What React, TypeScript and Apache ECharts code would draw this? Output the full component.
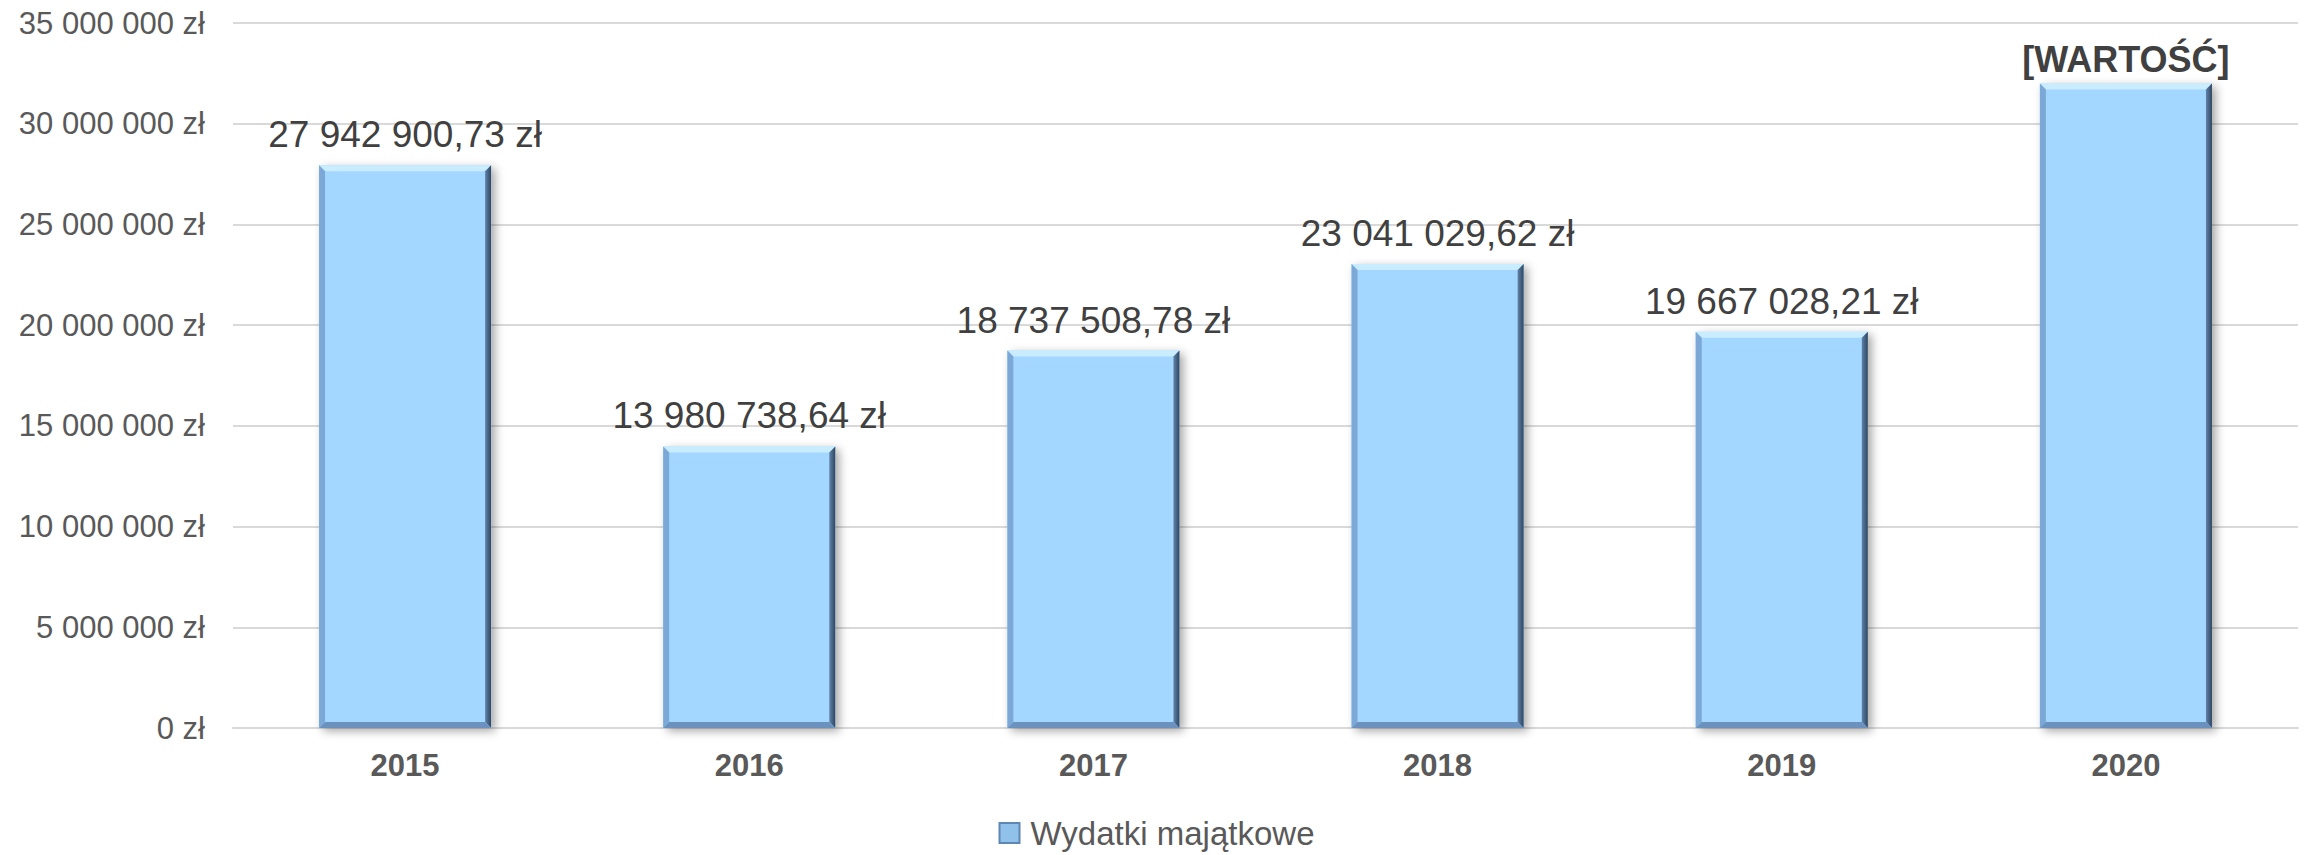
import React, { useEffect, useRef } from "react";
import * as echarts from "echarts";

const categories = ["2015", "2016", "2017", "2018", "2019", "2020"];
const values = [27942900.73, 13980738.64, 18737508.78, 23041029.62, 19667028.21, 32000000];
const labelOverrides: (string | null)[] = [null, null, null, null, null, "[WARTOŚĆ]"];
const seriesName = "Wydatki majątkowe";
const yMin = 0;
const yMax = 35000000;
const yInterval = 5000000;

const FONT = "'Liberation Sans', Arial, Helvetica, sans-serif";

function groupThousands(s: string): string {
  return s.replace(/\B(?=(\d{3})+(?!\d))/g, " ");
}
function fmtMoney(v: number, decimals: number): string {
  const fixed = v.toFixed(decimals);
  const [intPart, dec] = fixed.split(".");
  return groupThousands(intPart) + (dec ? "," + dec : "") + " zł";
}

export default function App() {
  const ref = useRef<HTMLDivElement>(null);
  useEffect(() => {
    if (!ref.current) return;
    const chart = echarts.init(ref.current, null, { renderer: "svg" });
    const barData = values.map((v, i) => {
      const ov = labelOverrides[i];
      if (ov) {
        return {
          value: v,
          label: {
            formatter: ov,
            fontWeight: "bold",
            fontSize: 36,
            distance: 6,
          },
        };
      }
      return v;
    });
    const B = 6;
    chart.setOption({
      animation: false,
      backgroundColor: "#ffffff",
      grid: { left: 233, right: 15, top: 23, bottom: 127, containLabel: false },
      legend: {
        data: [seriesName],
        left: "center",
        top: 814,
        icon: "rect",
        itemWidth: 20,
        itemHeight: 20,
        padding: 0,
        itemStyle: {
          color: "#8fc1ea",
          borderColor: "#5f87b3",
          borderWidth: 2,
        },
        textStyle: {
          fontFamily: FONT,
          fontSize: 33,
          lineHeight: 38,
          color: "#595959",
          padding: [0, 0, 0, 6],
        },
      },
      xAxis: {
        type: "category",
        data: categories,
        axisLine: { show: true, lineStyle: { color: "#d9d9d9", width: 2 } },
        axisTick: { show: false },
        axisLabel: {
          fontFamily: FONT,
          fontSize: 31,
          fontWeight: "bold",
          color: "#595959",
          margin: 22,
        },
      },
      yAxis: {
        type: "value",
        min: yMin,
        max: yMax,
        interval: yInterval,
        axisLine: { show: false },
        axisTick: { show: false },
        splitLine: { lineStyle: { color: "#d9d9d9", width: 2 } },
        axisLabel: {
          fontFamily: FONT,
          fontSize: 31,
          color: "#595959",
          margin: 28,
          formatter: (v: number) => fmtMoney(v, 0),
        },
      },
      series: [
        {
          name: seriesName,
          type: "bar",
          barWidth: "50%",
          data: barData,
          itemStyle: {
            color: "#a3d7ff",
            shadowColor: "rgba(0,0,0,0.35)",
            shadowBlur: 10,
            shadowOffsetX: 4,
            shadowOffsetY: 3,
          },
          label: {
            show: true,
            position: "top",
            distance: 12,
            fontFamily: FONT,
            fontSize: 37,
            color: "#404040",
            formatter: (p: any) => fmtMoney(p.value, 2),
          },
          z: 2,
        },
        {
          type: "custom",
          name: "bevel",
          silent: true,
          z: 3,
          data: values.map((v, i) => [i, v]),
          renderItem: (params: any, api: any) => {
            const topPt = api.coord([api.value(0), api.value(1)]);
            const basePt = api.coord([api.value(0), 0]);
            const bw = api.size([1, 0])[0] * 0.5;
            const l = topPt[0] - bw / 2;
            const r = l + bw;
            const t = topPt[1];
            const b = basePt[1];
            return {
              type: "group",
              children: [
                {
                  type: "polygon",
                  shape: { points: [[l, t], [r, t], [r - B, t + B], [l + B, t + B]] },
                  style: { fill: "#c9edff" },
                },
                {
                  type: "polygon",
                  shape: { points: [[l, t], [l + B, t + B], [l + B, b - B], [l, b]] },
                  style: { fill: "#7ba8d6" },
                },
                {
                  type: "polygon",
                  shape: { points: [[r, t], [r, b], [r - B, b - B], [r - B, t + B]] },
                  style: {
                    fill: new echarts.graphic.LinearGradient(0, 0, 1, 0, [
                      { offset: 0, color: "#5f83aa" },
                      { offset: 1, color: "#2f455e" },
                    ]),
                  },
                },
                {
                  type: "polygon",
                  shape: { points: [[l, b], [r, b], [r - B, b - B], [l + B, b - B]] },
                  style: { fill: "#6b92be" },
                },
              ],
            };
          },
        },
      ],
    });
    return () => chart.dispose();
  }, []);
  return (
    <div
      ref={ref}
      style={{ position: "fixed", left: 0, top: 0, width: 2313, height: 855 }}
    />
  );
}
